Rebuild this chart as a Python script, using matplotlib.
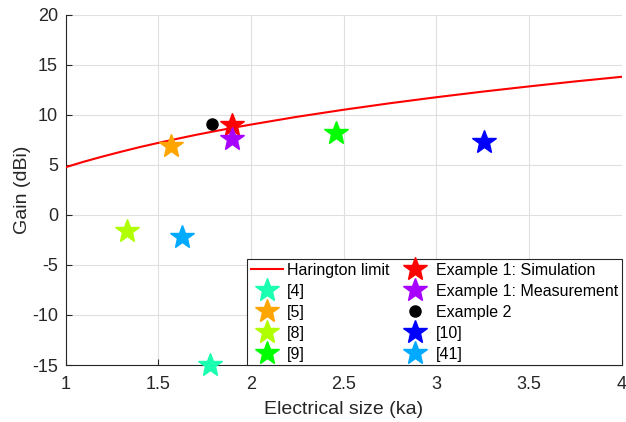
import matplotlib
matplotlib.use('Agg')
import matplotlib.pyplot as plt

plt.rcParams['font.family'] = ['Liberation Sans', 'DejaVu Sans']
plt.rcParams['axes.unicode_minus'] = False

# Harington limit
limit_ka = [1.0, 1.1, 1.2, 1.3, 1.4, 1.5, 1.6, 1.7, 1.8, 1.9, 2.0,
            2.25, 2.5, 2.75, 3.0, 3.25, 3.5, 3.75, 4.0]
limit_gain = [4.77, 5.33, 5.84, 6.32, 6.78, 7.20, 7.60, 7.99, 8.35, 8.70, 9.03,
              9.81, 10.51, 11.16, 11.76, 12.32, 12.84, 13.34, 13.80]

# reference antennas
labels = ['[4]', '[5]', '[8]', '[9]', 'Example 1: Simulation', 'Example 1: Measurement',
          'Example 2', '[10]', '[41]']
ka = [1.78, 1.57, 1.33, 2.46, 1.90, 1.90, 1.79, 3.26, 1.63]
gain = [-15.0, 6.9, -1.6, 8.2, 9.0, 7.6, 9.1, 7.3, -2.2]
colors = ['#1affb0', '#ffa500', '#b0ff00', '#00ff00', '#ff0000', '#a800ff',
          '#000000', '#0000ff', '#00aaff']
markers = ['*', '*', '*', '*', '*', '*', 'o', '*', '*']

fig, ax = plt.subplots(figsize=(6.26, 4.22), dpi=100)
fig.subplots_adjust(left=0.105, right=0.993, top=0.965, bottom=0.135)

h_lim, = ax.plot(limit_ka, limit_gain, color='red', lw=1.5, label='Harington limit', zorder=3)
handles = [h_lim]
for x, y, c, m, lab in zip(ka, gain, colors, markers, labels):
    ms = 18 if m == '*' else 8
    h, = ax.plot(x, y, linestyle='none', marker=m, color=c, markersize=ms,
                 markeredgecolor=c, label=lab, zorder=4, clip_on=False)
    handles.append(h)

ax.set_xlim(1, 4)
ax.set_ylim(-15, 20)
ax.set_xticks([1, 1.5, 2, 2.5, 3, 3.5, 4])
ax.set_xticklabels(['1', '1.5', '2', '2.5', '3', '3.5', '4'])
ax.set_yticks([-15, -10, -5, 0, 5, 10, 15, 20])
ax.grid(True, color='#dfdfdf', lw=0.8)
ax.set_axisbelow(True)
for s in ['top', 'right']:
    ax.spines[s].set_visible(False)
for s in ['left', 'bottom']:
    ax.spines[s].set_color('#262626')
ax.tick_params(direction='in', labelsize=13, colors='#262626', length=4)
ax.tick_params(axis='x', pad=8)
ax.tick_params(axis='y', pad=5.5)
ax.set_xlabel('Electrical size (ka)', fontsize=14, color='#262626', labelpad=6)
ax.set_ylabel('Gain (dBi)', fontsize=14, color='#262626', labelpad=1)

leg = ax.legend(handles=handles, ncol=2, loc='lower right', fontsize=11.5,
                fancybox=False, framealpha=1, edgecolor='#262626',
                borderaxespad=0, handlelength=2.0, handletextpad=0.3,
                columnspacing=0.6, labelspacing=0.38, borderpad=0.2)
leg.get_frame().set_linewidth(0.8)

plt.savefig('out.png', dpi=100)
